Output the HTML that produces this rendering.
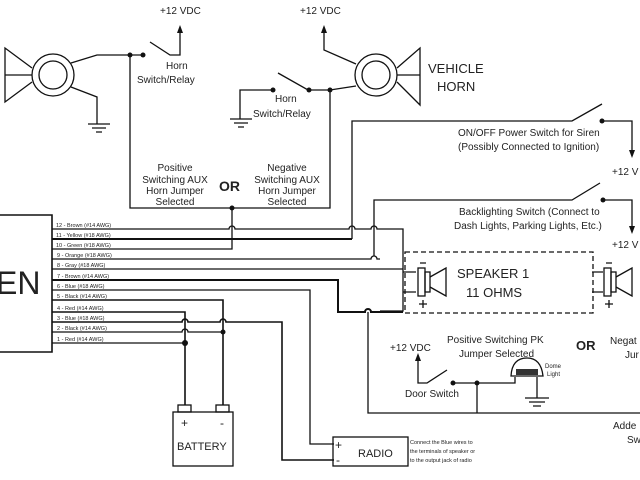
<!DOCTYPE html>
<html><head><meta charset="utf-8"><style>
html,body{margin:0;padding:0;background:#fff}
svg{display:block}
text{font-family:"Liberation Sans",sans-serif;fill:#222}
</style></head><body>
<svg width="640" height="480" viewBox="0 0 640 480" xmlns="http://www.w3.org/2000/svg">
<g stroke="#111" stroke-width="1.3" fill="none">
<polyline points="-5,215 52,215 52,352 -5,352" stroke-width="1.6"/>
<path d="M52,229 H229 a3,3 0 0 1 6,0 H349 a3,3 0 0 1 6,0 H371 a3,3 0 0 1 6,0 H403 V311 H380"/>
<path d="M52,239 H352" stroke-width="2"/>
<path d="M352,239 V121 H572 L602,104"/>
<path d="M52,249 H232 V208"/>
<path d="M52,259 H371 a3,3 0 0 1 6,0 H380"/>
<path d="M374,256 V200 H572 L600,183"/>
<path d="M52,269 H403"/>
<path d="M52,280 H338 V312 H365 a3,3 0 0 1 6,0 H403" stroke-width="2"/>
<path d="M52,290 H310 V444 H334"/>
<path d="M52,300 H223 V405" stroke-width="1.6"/>
<path d="M52,312 H185 V405" stroke-width="1.6"/>
<path d="M52,322 H182 a3,3 0 0 1 6,0 H220 a3,3 0 0 1 6,0 H282 V460 H334" stroke-width="1.6"/>
<path d="M52,332 H182 a3,3 0 0 1 6,0 H223"/>
<path d="M52,343 H185"/>
<path d="M403,272 H416 M403,292 H416"/>
<path d="M368,312 V413 H640"/>
<path d="M477,383 V413"/>
<circle cx="53" cy="75" r="21"/><circle cx="53" cy="75" r="14"/>
<path d="M32,68 L5,48 V102 L32,82 M5,75 H32"/>
<path d="M71,63 L97,55 H143 M71,87 L97,97 V124 M88,124 H110 M92,128 H106 M96,132 H102"/>
<path d="M130,55 V208 H330 V90"/>
<path d="M150,42 L170,55 H180 V30"/>
<path d="M240,119 V90 H273 M278,73 L308,90 H330 L356,86 M230,119 H252 M234,123 H248 M238,127 H244"/>
<path d="M324,30 V50 L356,64"/>
<circle cx="376" cy="75" r="21"/><circle cx="376" cy="75" r="14"/>
<path d="M397,68 L420,48 V105 L397,82 M397,75 H420"/>
<path d="M602,121 H632 V152"/>
<path d="M603,200 H632 V228"/>
<rect x="405" y="252" width="188" height="61" stroke-dasharray="5,3"/>
<rect x="418" y="268" width="7" height="28"/><rect x="425" y="272" width="5" height="20"/>
<path d="M430,277 L446,268 V296 L430,287 M420,263 h6 M423,300 v8 M419,304 h8"/>
<path d="M592,272 H603 M592,292 H603"/>
<rect x="604" y="268" width="7" height="28"/><rect x="611" y="272" width="5" height="20"/>
<path d="M616,277 L632,268 V296 L616,287 M606,263 h6 M609,300 v8 M605,304 h8"/>
<path d="M418,358 V383 H427 L447,370 M453,383 H515 V377"/>
<path d="M511,376 Q512,358 527,358 Q541,358 543,376 Z"/>
<path d="M537,377 V398 M525,398 H549 M529,402 H545 M533,406 H541"/>
<rect x="173" y="412" width="60" height="54"/>
<rect x="178" y="405" width="13" height="7"/><rect x="216" y="405" width="13" height="7"/>
<rect x="333" y="437" width="75" height="29"/>
</g>
<rect x="516" y="369" width="22" height="6" fill="#333"/>
<g fill="#111">
<circle cx="130" cy="55" r="2.5"/><circle cx="143" cy="55" r="2.5"/>
<circle cx="273" cy="90" r="2.5"/><circle cx="309" cy="90" r="2.5"/><circle cx="330" cy="90" r="2.5"/>
<circle cx="232" cy="208" r="2.5"/>
<circle cx="602" cy="121" r="2.5"/><circle cx="603" cy="200" r="2.5"/>
<circle cx="185" cy="343" r="3"/><circle cx="223" cy="332" r="2.5"/>
<circle cx="453" cy="383" r="2.5"/><circle cx="477" cy="383" r="2.5"/>
<path d="M180,25 l-3,8 h6z M324,25 l-3,8 h6z M632,158 l-3,-8 h6z M632,234 l-3,-8 h6z M418,353 l-3,8 h6z"/>
</g>
<text x="-4" y="294" font-size="32">EN</text>
<g font-size="5.5">
<text x="56" y="227">12 - Brown (#14 AWG)</text>
<text x="56" y="237">11 - Yellow (#18 AWG)</text>
<text x="56" y="247">10 - Green (#18 AWG)</text>
<text x="57" y="257">9 - Orange (#18 AWG)</text>
<text x="57" y="267">8 - Gray (#18 AWG)</text>
<text x="57" y="278">7 - Brown (#14 AWG)</text>
<text x="57" y="288">6 - Blue (#18 AWG)</text>
<text x="57" y="298">5 - Black (#14 AWG)</text>
<text x="57" y="310">4 - Red (#14 AWG)</text>
<text x="57" y="320">3 - Blue (#18 AWG)</text>
<text x="57" y="330">2 - Black (#14 AWG)</text>
<text x="57" y="341">1 - Red (#14 AWG)</text>
<text x="410" y="444">Connect the Blue wires to</text>
<text x="410" y="453">the terminals of speaker or</text>
<text x="410" y="462">to the output jack of radio</text>
<text x="545" y="368" font-size="6">Dome</text>
<text x="547" y="376" font-size="6">Light</text>
</g>
<g font-size="10">
<text x="160" y="14">+12 VDC</text>
<text x="300" y="14">+12 VDC</text>
<text x="166" y="69">Horn</text>
<text x="137" y="83">Switch/Relay</text>
<text x="275" y="102">Horn</text>
<text x="253" y="117">Switch/Relay</text>
<g text-anchor="middle">
<text x="175" y="171">Positive</text><text x="175" y="183">Switching AUX</text><text x="175" y="194">Horn Jumper</text><text x="175" y="205">Selected</text>
<text x="287" y="171">Negative</text><text x="287" y="183">Switching AUX</text><text x="287" y="194">Horn Jumper</text><text x="287" y="205">Selected</text>
</g>
<text x="458" y="136">ON/OFF Power Switch for Siren</text>
<text x="458" y="150">(Possibly Connected to Ignition)</text>
<text x="612" y="175">+12 V</text>
<text x="459" y="215">Backlighting Switch (Connect to</text>
<text x="454" y="229">Dash Lights, Parking Lights, Etc.)</text>
<text x="612" y="248">+12 V</text>
<text x="390" y="351">+12 VDC</text>
<text x="447" y="343">Positive Switching PK</text>
<text x="459" y="357">Jumper Selected</text>
<text x="405" y="397">Door Switch</text>
<text x="610" y="344">Negat</text>
<text x="625" y="358">Jur</text>
<text x="613" y="429">Adde</text>
<text x="627" y="443">Sw</text>
</g>
<text x="219" y="191" font-size="14" font-weight="bold">OR</text>
<text x="576" y="350" font-size="13" font-weight="bold">OR</text>
<text x="428" y="73" font-size="13">VEHICLE</text>
<text x="437" y="91" font-size="13">HORN</text>
<text x="457" y="278" font-size="13">SPEAKER 1</text>
<text x="466" y="297" font-size="13">11 OHMS</text>
<text x="177" y="450" font-size="11">BATTERY</text>
<text x="181" y="427" font-size="12">+</text><text x="220" y="427" font-size="12">-</text>
<text x="335" y="449" font-size="12">+</text><text x="336" y="464" font-size="12">-</text>
<text x="358" y="457" font-size="11">RADIO</text>
</svg>
</body></html>
